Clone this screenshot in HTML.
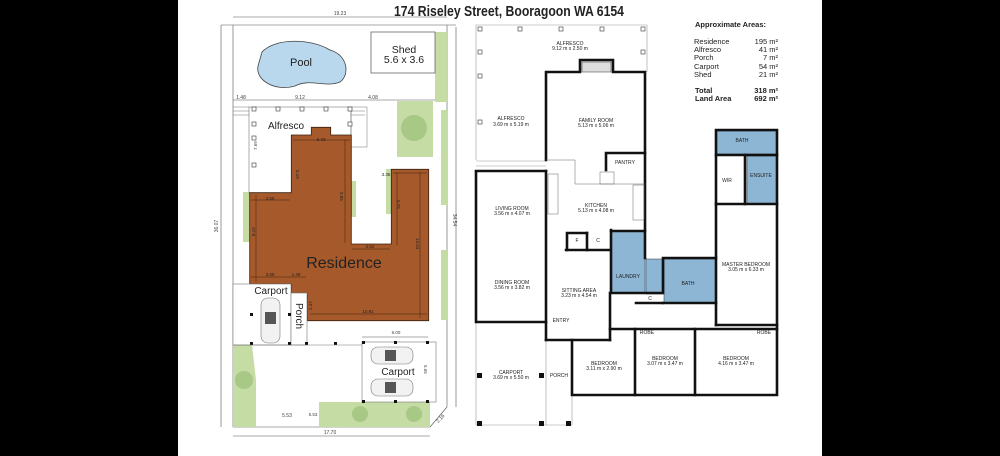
<!DOCTYPE html>
<html><head><meta charset="utf-8"><style>
html,body{margin:0;padding:0;background:#000;}
svg{display:block;}
text{font-family:"Liberation Sans",sans-serif;}
</style></head><body>
<svg width="1000" height="456" viewBox="0 0 1000 456" xmlns="http://www.w3.org/2000/svg">
<rect x="0" y="0" width="1000" height="456" fill="#000"/>
<rect x="178" y="0" width="644" height="456" fill="#fff"/>

<!-- Title -->
<text x="509" y="16" font-size="15" font-weight="bold" text-anchor="middle" textLength="230" lengthAdjust="spacingAndGlyphs" fill="#222">174 Riseley Street, Booragoon WA 6154</text>

<!-- ===== SITE PLAN ===== -->
<g stroke="#555" stroke-width="0.6" fill="none">
<line x1="233" y1="17" x2="447" y2="17"/>
<line x1="221" y1="25" x2="456" y2="25"/>
<line x1="233" y1="25" x2="233" y2="427"/>
<line x1="221" y1="25" x2="221" y2="427"/>
<line x1="447" y1="25" x2="447" y2="407"/>
<line x1="456" y1="27" x2="456" y2="407"/>
<line x1="233" y1="427" x2="430" y2="427"/>
<line x1="233" y1="436" x2="430" y2="436"/>
<line x1="430" y1="427" x2="447" y2="407"/>
<line x1="233" y1="100" x2="447" y2="100"/>
</g>
<text x="340" y="15" font-size="5" text-anchor="middle" fill="#444">19.23</text>
<text x="330" y="434" font-size="5" text-anchor="middle" fill="#444">17.70</text>
<text x="218" y="226" font-size="5" text-anchor="middle" fill="#444" transform="rotate(-90 218 226)">36.07</text>
<text x="453" y="220" font-size="5" text-anchor="middle" fill="#444" transform="rotate(90 453 220)">34.54</text>
<text x="241" y="99" font-size="5" text-anchor="middle" fill="#444">1.48</text>
<text x="300" y="99" font-size="5" text-anchor="middle" fill="#444">9.12</text>
<text x="373" y="99" font-size="5" text-anchor="middle" fill="#444">4.08</text>
<text x="287" y="417" font-size="5" text-anchor="middle" fill="#444">5.53</text>
<text x="438" y="423" font-size="5" fill="#444" transform="rotate(-45 438 423)">2.16</text>

<!-- greenery -->
<g fill="#c5dca5">
<rect x="435" y="32" width="12" height="70"/>
<rect x="397" y="101" width="36" height="56"/>
<rect x="441" y="110" width="7" height="95"/>
<rect x="441" y="250" width="7" height="70"/>
<rect x="243" y="192" width="7" height="50"/>
<rect x="351" y="181" width="5" height="36"/>
<rect x="386" y="169" width="5" height="45"/>
<path d="M233 330 L248 330 L252 345 L256 380 L256 427 L233 427 Z"/>
<rect x="319" y="402" width="111" height="25"/>
</g>
<circle cx="414" cy="128" r="13" fill="#a8c886"/>
<circle cx="244" cy="380" r="9" fill="#a8c886"/>
<circle cx="360" cy="414" r="8" fill="#a8c886"/>
<circle cx="414" cy="414" r="8" fill="#a8c886"/>

<!-- pool -->
<path d="M262 52 C275 38 310 38 330 50 C348 55 350 75 340 82 C325 88 310 78 295 86 C275 92 255 80 258 66 Z" fill="#b9d8ee" stroke="#444" stroke-width="0.8"/>
<text x="301" y="66" font-size="11" text-anchor="middle" fill="#222">Pool</text>
<!-- shed -->
<rect x="371" y="32" width="64" height="41" fill="#fff" stroke="#666" stroke-width="0.8"/>
<text x="404" y="53" font-size="10.5" text-anchor="middle" fill="#222">Shed</text>
<text x="404" y="63" font-size="10.5" text-anchor="middle" fill="#222">5.6 x 3.6</text>

<!-- alfresco -->
<rect x="249" y="107" width="102" height="86" fill="#fff" stroke="#777" stroke-width="0.6"/>
<line x1="233" y1="107" x2="249" y2="107" stroke="#777" stroke-width="0.5"/>
<line x1="233" y1="111" x2="249" y2="111" stroke="#777" stroke-width="0.5"/>
<line x1="233" y1="115" x2="249" y2="115" stroke="#777" stroke-width="0.5"/>
<line x1="351" y1="111" x2="365" y2="111" stroke="#777" stroke-width="0.5"/>
<line x1="351" y1="115" x2="365" y2="115" stroke="#777" stroke-width="0.5"/>
<rect x="351" y="107" width="16" height="40" fill="none" stroke="#777" stroke-width="0.5"/>
<g fill="#fff" stroke="#333" stroke-width="0.6">
<rect x="252" y="107" width="4" height="4"/><rect x="276" y="107" width="4" height="4"/><rect x="300" y="107" width="4" height="4"/><rect x="324" y="107" width="4" height="4"/><rect x="348" y="107" width="4" height="4"/>
<rect x="252" y="122" width="4" height="4"/><rect x="252" y="136" width="4" height="4"/><rect x="252" y="163" width="4" height="4"/><rect x="348" y="122" width="4" height="4"/>
</g>
<text x="268" y="129" font-size="10" fill="#222">Alfresco</text>
<text x="257" y="150" font-size="4.5" fill="#444" transform="rotate(-90 257 150)">7.69</text>

<!-- residence -->
<polygon points="249.7,192.7 291.3,192.7 291.3,135 311.3,135 311.3,127.3 330.7,127.3 330.7,135 351.3,135 351.3,244 391.3,244 391.3,169.3 428.7,169.3 428.7,320.7 307.3,320.7 307.3,293.3 291.3,293.3 291.3,284 249.7,284" fill="#a65a2b" stroke="#3a2010" stroke-width="0.8"/>
<g stroke="#3a2010" stroke-width="0.5" fill="none">
<line x1="293" y1="140" x2="350" y2="140"/>
<line x1="251" y1="200" x2="290" y2="200"/>
<line x1="345" y1="140" x2="345" y2="243"/>
<line x1="352" y1="249" x2="390" y2="249"/>
<line x1="393" y1="173" x2="427" y2="173"/>
<line x1="397" y1="172" x2="397" y2="245"/>
<line x1="420" y1="172" x2="420" y2="318"/>
<line x1="251" y1="277" x2="306" y2="277"/>
<line x1="310" y1="314" x2="427" y2="314"/>
<line x1="256" y1="195" x2="256" y2="282"/>
</g>
<g font-size="4.5" fill="#222" text-anchor="middle">
<text x="321" y="141">5.43</text>
<text x="270" y="200">3.69</text>
<text x="386" y="176">3.35</text>
<text x="370" y="248">3.62</text>
<text x="270" y="276">3.69</text>
<text x="296" y="276">1.49</text>
<text x="368" y="313">10.91</text>
</g>
<g font-size="4.5" fill="#222">
<text x="296" y="170" transform="rotate(90 296 170)">5.19</text>
<text x="340" y="192" transform="rotate(90 340 192)">9.85</text>
<text x="397" y="200" transform="rotate(90 397 200)">6.76</text>
<text x="416" y="238" transform="rotate(90 416 238)">13.64</text>
<text x="255" y="236" transform="rotate(-90 255 236)">8.19</text>
<text x="312" y="310" transform="rotate(-90 312 310)">2.47</text>
</g>
<text x="344" y="268" font-size="16" text-anchor="middle" fill="#222">Residence</text>

<!-- carport left & porch -->
<rect x="233" y="284" width="58" height="61" fill="#fff" stroke="#777" stroke-width="0.6"/>
<rect x="291" y="293" width="16" height="52" fill="#fff" stroke="#777" stroke-width="0.6"/>
<text x="271" y="294" font-size="10" text-anchor="middle" fill="#222">Carport</text>
<text x="296" y="303" font-size="10" fill="#222" transform="rotate(90 296 303)">Porch</text>
<rect x="261" y="298" width="19" height="45" rx="7" fill="#f2f2f2" stroke="#777" stroke-width="0.6"/>
<rect x="265" y="312" width="11" height="12" fill="#555"/>
<g fill="#111">
<rect x="250" y="313" width="3" height="3"/><rect x="288" y="313" width="3" height="3"/>
<rect x="250" y="342" width="3" height="3"/><rect x="288" y="342" width="3" height="3"/><rect x="305" y="342" width="3" height="3"/><rect x="334" y="342" width="3" height="3"/>
</g>
<line x1="233" y1="345" x2="362" y2="345" stroke="#777" stroke-width="0.5"/>

<!-- carport right -->
<rect x="362" y="342" width="74" height="60" fill="#fff" stroke="#777" stroke-width="0.6"/>
<line x1="362" y1="337" x2="428" y2="337" stroke="#555" stroke-width="0.5"/>
<text x="396" y="334" font-size="4.5" text-anchor="middle" fill="#444">6.00</text>
<text x="431" y="372" font-size="4.5" fill="#444" transform="rotate(90 431 365)">5.65</text>
<text x="313" y="416" font-size="4.5" text-anchor="middle" fill="#444">5.53</text>
<g fill="#f2f2f2" stroke="#777" stroke-width="0.6">
<rect x="371" y="347" width="42" height="17" rx="7"/>
<rect x="371" y="379" width="42" height="17" rx="7"/>
</g>
<rect x="385" y="350" width="11" height="11" fill="#555"/>
<rect x="385" y="382" width="11" height="11" fill="#555"/>
<text x="398" y="375" font-size="10" text-anchor="middle" fill="#222">Carport</text>
<g fill="#111">
<rect x="362" y="341" width="3" height="3"/><rect x="394" y="341" width="3" height="3"/><rect x="426" y="341" width="3" height="3"/>
<rect x="362" y="400" width="3" height="3"/><rect x="394" y="400" width="3" height="3"/><rect x="426" y="400" width="3" height="3"/>
</g>

<!-- ===== FLOOR PLAN ===== -->
<!-- blue rooms -->
<g fill="#8db5d4" stroke="#333" stroke-width="0.5">
<rect x="716" y="131" width="61" height="23"/>
<rect x="747" y="156" width="30" height="48"/>
<rect x="611" y="231" width="34" height="62"/>
<rect x="646" y="259" width="17" height="35"/>
<rect x="664" y="259" width="52" height="44"/>
</g>
<!-- alfresco outline -->
<g stroke="#999" stroke-width="0.6" fill="none">
<polyline points="476,160 476,25 647,25 647,72"/>
<line x1="476" y1="161" x2="546" y2="161"/>
<line x1="476" y1="166" x2="546" y2="166"/>
<polyline points="476,322 476,425 572,425"/>
<line x1="546" y1="322" x2="546" y2="425"/>
<line x1="572" y1="340" x2="572" y2="425"/>
<line x1="546" y1="340" x2="572" y2="340"/>
</g>
<g fill="#fff" stroke="#333" stroke-width="0.6">
<rect x="478" y="27" width="4" height="4"/><rect x="518" y="27" width="4" height="4"/><rect x="559" y="27" width="4" height="4"/><rect x="600" y="27" width="4" height="4"/><rect x="641" y="27" width="4" height="4"/>
<rect x="478" y="50" width="4" height="4"/><rect x="641" y="50" width="4" height="4"/>
<rect x="478" y="74" width="4" height="4"/><rect x="478" y="120" width="4" height="4"/>
</g>
<!-- walls -->
<g stroke="#111" stroke-width="2.6" fill="none" stroke-linecap="square">
<polyline points="546,160 546,72 580,72 580,60 613,60 613,72 645,72 645,258"/>
<polyline points="476,172 476,322 546,322"/>
<line x1="476" y1="171" x2="546" y2="171"/>
<line x1="546" y1="171" x2="546" y2="340"/>
<polyline points="606,170 606,153 645,153"/>
<polyline points="611,230 611,293 645,293 663,293 663,258 716,258"/>
<line x1="611" y1="231" x2="645" y2="231"/>
<line x1="610" y1="293" x2="610" y2="340"/>
<polyline points="546,340 610,340"/>
<polyline points="572,340 572,395 777,395 777,130 716,130 716,325"/>
<line x1="716" y1="325" x2="777" y2="325"/>
<line x1="635" y1="329" x2="635" y2="395"/>
<line x1="695" y1="329" x2="695" y2="395"/>
<line x1="610" y1="329" x2="777" y2="329"/>
<polyline points="663,303 716,303"/>
<line x1="716" y1="204" x2="777" y2="204"/>
<line x1="745" y1="155" x2="745" y2="204"/>
<line x1="716" y1="155" x2="777" y2="155"/>
<polyline points="567,250 567,233 587,233"/>
<line x1="587" y1="233" x2="587" y2="250"/>
<line x1="566" y1="250" x2="610" y2="250"/>
<polyline points="636,303 663,303"/>
</g>
<!-- fireplace -->
<rect x="582" y="62" width="29" height="10" fill="#ddd" stroke="#333" stroke-width="0.5"/>
<!-- kitchen counters -->
<g fill="none" stroke="#666" stroke-width="0.5">
<polyline points="546,160 575,160 575,184 645,184"/>
<rect x="633" y="185" width="11" height="35"/>
<rect x="600" y="172" width="14" height="12"/>
<rect x="548" y="174" width="10" height="40"/>
</g>
<!-- floor plan labels -->
<g font-size="5" fill="#222" text-anchor="middle">
<text x="570" y="45">ALFRESCO</text><text x="570" y="50">9.12 m x 2.50 m</text>
<text x="511" y="120">ALFRESCO</text><text x="511" y="126">3.69 m x 5.19 m</text>
<text x="596" y="122">FAMILY ROOM</text><text x="596" y="127">5.13 m x 5.06 m</text>
<text x="625" y="164">PANTRY</text>
<text x="596" y="207">KITCHEN</text><text x="596" y="212">5.13 m x 4.08 m</text>
<text x="512" y="210">LIVING ROOM</text><text x="512" y="215">3.56 m x 4.07 m</text>
<text x="512" y="284">DINING ROOM</text><text x="512" y="289">3.56 m x 3.82 m</text>
<text x="579" y="292">SITTING AREA</text><text x="579" y="297">3.23 m x 4.54 m</text>
<text x="561" y="322">ENTRY</text>
<text x="628" y="278">LAUNDRY</text>
<text x="688" y="285">BATH</text>
<text x="742" y="142">BATH</text>
<text x="761" y="177">ENSUITE</text>
<text x="727" y="182">WIR</text>
<text x="746" y="266">MASTER BEDROOM</text><text x="746" y="271">3.05 m x 6.33 m</text>
<text x="577" y="242">F</text><text x="598" y="242">C</text><text x="650" y="300">C</text>
<text x="647" y="334">ROBE</text><text x="764" y="334">ROBE</text>
<text x="604" y="365">BEDROOM</text><text x="604" y="370">3.11 m x 2.90 m</text>
<text x="665" y="360">BEDROOM</text><text x="665" y="365">3.07 m x 3.47 m</text>
<text x="736" y="360">BEDROOM</text><text x="736" y="365">4.16 m x 3.47 m</text>
<text x="511" y="374">CARPORT</text><text x="511" y="379">3.69 m x 5.50 m</text>
<text x="559" y="377">PORCH</text>
</g>
<g fill="#111">
<rect x="477" y="373" width="5" height="5"/><rect x="539" y="373" width="5" height="5"/>
<rect x="477" y="421" width="5" height="5"/><rect x="539" y="421" width="5" height="5"/><rect x="566" y="421" width="5" height="5"/>
</g>

<!-- areas table -->
<g font-size="7.5" fill="#222">
<text x="695" y="27" font-weight="bold">Approximate Areas:</text>
<text x="694" y="44">Residence</text>
<text x="694" y="52">Alfresco</text>
<text x="694" y="60">Porch</text>
<text x="694" y="69">Carport</text>
<text x="694" y="77">Shed</text>
<text x="695" y="93" font-weight="bold">Total</text>
<text x="695" y="101" font-weight="bold">Land Area</text>
</g>
<g font-size="7.5" fill="#222" text-anchor="end">
<text x="778" y="44">195 m²</text>
<text x="778" y="52">41 m²</text>
<text x="778" y="60">7 m²</text>
<text x="778" y="69">54 m²</text>
<text x="778" y="77">21 m²</text>
<text x="778" y="93" font-weight="bold">318 m²</text>
<text x="778" y="101" font-weight="bold">692 m²</text>
</g>
</svg>
</body></html>
